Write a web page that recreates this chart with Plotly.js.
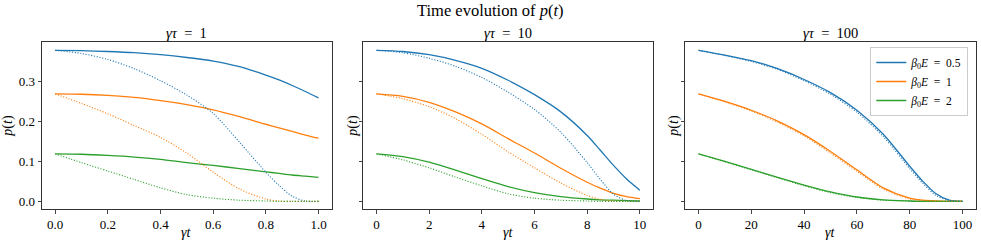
<!DOCTYPE html>
<html>
<head>
<meta charset="utf-8">
<script src="https://cdn.plot.ly/plotly-3.0.1.min.js"></script>
<style>html,body{margin:0;padding:0;background:#fff;}#chart{width:981px;height:245px;}</style>
</head>
<body>
<div id="chart"></div>
<script>
// ---- data ----
const seriesLabels = ['<i>β</i><sub>0</sub><i>E</i>\u2002=\u20020.5', '<i>β</i><sub>0</sub><i>E</i>\u2002=\u20021', '<i>β</i><sub>0</sub><i>E</i>\u2002=\u20022'];
const panelTitles = ['<i>γτ</i>\u2002=\u20021', '<i>γτ</i>\u2002=\u200210', '<i>γτ</i>\u2002=\u2002100'];

// panel 1: γτ = 1
const t1 = [0, 0.1, 0.2, 0.3, 0.4, 0.5, 0.6, 0.7, 0.8, 0.85, 0.9, 0.95, 1.0];
const p1_blue_solid   = [0.378,0.377,0.375,0.372,0.367,0.360,0.351,0.337,0.316,0.304,0.290,0.275,0.259];
const p1_blue_dot     = [0.378,0.370,0.355,0.332,0.302,0.266,0.220,0.148,0.073,0.040,0.013,0.001,0.000];
const p1_orange_solid = [0.269,0.268,0.265,0.260,0.252,0.242,0.229,0.212,0.193,0.184,0.175,0.166,0.158];
const p1_orange_dot   = [0.269,0.245,0.219,0.190,0.160,0.121,0.073,0.031,0.006,0.001,0.000,0.000,0.000];
const p1_green_solid  = [0.119,0.118,0.115,0.111,0.105,0.097,0.090,0.082,0.074,0.070,0.066,0.063,0.060];
const p1_green_dot    = [0.119,0.097,0.076,0.055,0.034,0.017,0.008,0.003,0.001,0.000,0.000,0.000,0.000];

// panel 2: γτ = 10
const t2 = [0, 1, 2, 3, 4, 5, 6, 7, 8, 8.5, 9, 9.5, 10];
const p2_blue_solid   = [0.378,0.375,0.367,0.353,0.333,0.303,0.267,0.224,0.165,0.128,0.090,0.056,0.028];
const p2_blue_dot     = [0.378,0.372,0.358,0.338,0.310,0.273,0.230,0.173,0.097,0.055,0.018,0.002,0.000];
const p2_orange_solid = [0.269,0.263,0.248,0.224,0.194,0.157,0.121,0.083,0.048,0.033,0.020,0.012,0.007];
const p2_orange_dot   = [0.269,0.257,0.237,0.207,0.168,0.124,0.084,0.046,0.015,0.005,0.001,0.000,0.000];
const p2_green_solid  = [0.119,0.112,0.098,0.078,0.057,0.037,0.022,0.012,0.006,0.004,0.003,0.002,0.001];
const p2_green_dot    = [0.119,0.104,0.084,0.061,0.039,0.019,0.008,0.003,0.001,0.000,0.000,0.000,0.000];

// panel 3: γτ = 100
const t3 = [0, 10, 20, 30, 40, 50, 60, 70, 80, 85, 90, 95, 100];
const p3_blue_solid   = [0.378,0.366,0.352,0.332,0.305,0.272,0.228,0.168,0.088,0.050,0.019,0.003,0.000];
const p3_blue_dot     = [0.378,0.365,0.350,0.330,0.302,0.268,0.223,0.162,0.082,0.045,0.015,0.002,0.000];
const p3_orange_solid = [0.269,0.250,0.228,0.201,0.167,0.125,0.079,0.034,0.008,0.003,0.001,0.000,0.000];
const p3_orange_dot   = [0.269,0.249,0.226,0.198,0.164,0.121,0.075,0.031,0.006,0.002,0.000,0.000,0.000];
const p3_green_solid  = [0.119,0.100,0.080,0.060,0.041,0.024,0.011,0.004,0.001,0.000,0.000,0.000,0.000];
const p3_green_dot    = [0.119,0.099,0.079,0.059,0.039,0.022,0.010,0.003,0.001,0.000,0.000,0.000,0.000];

const xTicks1 = [0, 0.2, 0.4, 0.6, 0.8, 1.0];
const xTicks2 = [0, 2, 4, 6, 8, 10];
const xTicks3 = [0, 20, 40, 60, 80, 100];
const yTicks  = [0, 0.1, 0.2, 0.3];

// ---- build ----
const colors = ['#1f77b4', '#ff7f0e', '#2ca02c'];
const panels = [
  {t: t1, solid: [p1_blue_solid, p1_orange_solid, p1_green_solid], dot: [p1_blue_dot, p1_orange_dot, p1_green_dot]},
  {t: t2, solid: [p2_blue_solid, p2_orange_solid, p2_green_solid], dot: [p2_blue_dot, p2_orange_dot, p2_green_dot]},
  {t: t3, solid: [p3_blue_solid, p3_orange_solid, p3_green_solid], dot: [p3_blue_dot, p3_orange_dot, p3_green_dot]}
];

const traces = [];
panels.forEach((pn, i) => {
  const xa = i === 0 ? 'x' : 'x' + (i + 1);
  const ya = i === 0 ? 'y' : 'y' + (i + 1);
  for (let k = 0; k < 3; k++) {
    traces.push({
      x: pn.t, y: pn.solid[k], xaxis: xa, yaxis: ya, type: 'scatter', mode: 'lines',
      line: {color: colors[k], width: 1.3, shape: 'spline', smoothing: 0.8},
      name: seriesLabels[k], showlegend: i === 2, legendrank: k, hoverinfo: 'skip'
    });
  }
  for (let k = 0; k < 3; k++) {
    traces.push({
      x: pn.t, y: pn.dot[k], xaxis: xa, yaxis: ya, type: 'scatter', mode: 'lines',
      line: {color: colors[k], width: 1.1, dash: '1.1px,1.7px', shape: 'spline', smoothing: 0.8},
      showlegend: false, hoverinfo: 'skip'
    });
  }
});

const W = 981, H = 245;
const dx = [[42, 331.7], [363.3, 653], [685.3, 975.7]].map(d => [d[0] / W, d[1] / W]);
const dy = [(H - 209) / H, (H - 42.3) / H];
const fontFam = "'Liberation Serif', 'DejaVu Serif', serif";
const frameColor = '#333333';

function xaxis(i, ticks, fmt) {
  return {
    domain: dx[i], anchor: i === 0 ? 'y' : 'y' + (i + 1),
    range: [ticks[0] - 0.05 * ticks[ticks.length - 1], ticks[ticks.length - 1] * 1.05],
    tickvals: ticks, tickformat: fmt,
    showline: true, mirror: true, linecolor: frameColor, linewidth: 1,
    ticks: 'outside', ticklen: 3.5, tickwidth: 0.9, tickcolor: frameColor,
    showgrid: false, zeroline: false, fixedrange: true,
    tickfont: {family: fontFam, size: 13, color: '#000'}
  };
}
function yaxis(i) {
  return {
    domain: dy, anchor: i === 0 ? 'x' : 'x' + (i + 1),
    range: [-0.019, 0.398], tickvals: yTicks, tickformat: '.1f',
    showticklabels: i === 0,
    showline: true, mirror: true, linecolor: frameColor, linewidth: 1,
    ticks: 'outside', ticklen: 3.5, tickwidth: 0.9, tickcolor: frameColor,
    showgrid: false, zeroline: false, fixedrange: true,
    tickfont: {family: fontFam, size: 13, color: '#000'}
  };
}

const annotations = [];
annotations.push({text: 'Time evolution of <i>p</i>(<i>t</i>)', xref: 'paper', yref: 'paper',
  x: 0.5, y: (H - 11) / H, xanchor: 'center', yanchor: 'middle', showarrow: false,
  font: {family: fontFam, size: 16.5, color: '#000'}});
const yTitleX = [8, 353, 674];
for (let i = 0; i < 3; i++) {
  const cx = (dx[i][0] + dx[i][1]) / 2;
  annotations.push({text: panelTitles[i], xref: 'paper', yref: 'paper', x: cx, y: (H - 33) / H,
    xanchor: 'center', yanchor: 'middle', showarrow: false, font: {family: fontFam, size: 14.5, color: '#000'}});
  annotations.push({text: '<i>γt</i>', xref: 'paper', yref: 'paper', x: cx, y: (H - 232) / H,
    xanchor: 'center', yanchor: 'middle', showarrow: false, font: {family: fontFam, size: 14, color: '#000'}});
  annotations.push({text: '<i>p</i>(<i>t</i>)', xref: 'paper', yref: 'paper', x: yTitleX[i] / W, y: (dy[0] + dy[1]) / 2,
    xanchor: 'center', yanchor: 'middle', textangle: -90, showarrow: false, font: {family: fontFam, size: 14, color: '#000'}});
}

const layout = {
  width: W, height: H, margin: {l: 0, r: 0, t: 0, b: 0},
  paper_bgcolor: '#fff', plot_bgcolor: '#fff',
  font: {family: fontFam, size: 12, color: '#000'},
  xaxis: xaxis(0, xTicks1, '.1f'), xaxis2: xaxis(1, xTicks2, 'd'), xaxis3: xaxis(2, xTicks3, 'd'),
  yaxis: yaxis(0), yaxis2: yaxis(1), yaxis3: yaxis(2),
  showlegend: true,
  legend: {x: 968.3 / W, xanchor: 'right', y: (H - 47) / H, yanchor: 'top',
    bgcolor: 'rgba(255,255,255,0.8)', bordercolor: '#cccccc', borderwidth: 1,
    font: {family: fontFam, size: 11.5, color: '#000'}, tracegroupgap: 0},
  annotations: annotations
};

Plotly.newPlot('chart', traces, layout, {displayModeBar: false, staticPlot: true});
</script>
</body>
</html>
